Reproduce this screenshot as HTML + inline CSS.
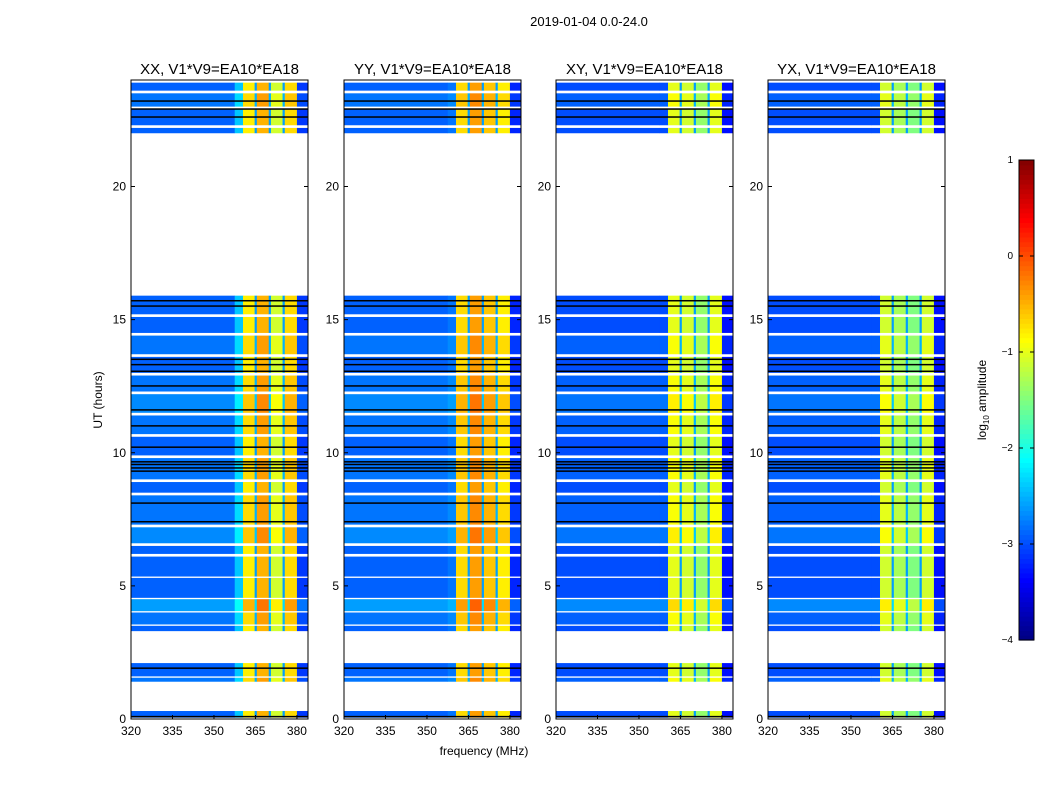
<!DOCTYPE html>
<html><head><meta charset="utf-8">
<style>
html,body{margin:0;padding:0;background:#fff;}
svg{display:block;font-family:"Liberation Sans","DejaVu Sans",sans-serif;}
</style></head>
<body>
<svg id="fig" width="1050" height="800" viewBox="0 0 1050 800" xmlns="http://www.w3.org/2000/svg">
<text x="589" y="26" font-size="13" text-anchor="middle">2019-01-04 0.0-24.0</text>
<text x="484" y="755" font-size="12" text-anchor="middle">frequency (MHz)</text>
<text transform="translate(102,400) rotate(-90)" font-size="12" text-anchor="middle">UT (hours)</text>
<text transform="translate(986,400) rotate(-90)" font-size="12" text-anchor="middle">log<tspan font-size="8" dy="3">10</tspan><tspan dy="-3"> amplitude</tspan></text>
</svg>
<script>
const panelTitles = ["XX, V1*V9=EA10*EA18","YY, V1*V9=EA10*EA18","XY, V1*V9=EA10*EA18","YX, V1*V9=EA10*EA18"];
const freqEdges = [320,357.5,360.5,364.7,365.5,369.8,370.6,374.8,375.6,380,384];
const bandValsXX = [-2.9,-2.4,-0.8,-2.6,-0.5,-2.6,-1.1,-2.6,-0.7,-3.1];
const bandValsYY = [-2.9,-2.8,-0.7,-2.6,-0.4,-2.6,-0.6,-2.6,-0.8,-3.2];
const bandValsXY = [-3.0,-3.0,-1.0,-2.6,-1.1,-2.6,-1.4,-2.6,-1.0,-3.3];
const bandValsYX = [-3.0,-3.0,-1.1,-2.6,-1.3,-2.6,-1.5,-2.6,-1.1,-3.3];
const segStart = [0.05,1.4,1.6,3.3,3.55,4.05,4.55,5.35,6.2,6.6,7.3,8.5,9.0,9.9,10.7,11.5,12.3,13.0,13.7,14.5,15.2,22.0,22.3,23.0,23.6];
const segEnd   = [0.3,1.55,2.1,3.5,4.0,4.5,5.3,6.1,6.5,7.2,8.4,8.9,9.8,10.6,11.4,12.2,12.9,13.6,14.4,15.1,15.9,22.2,22.9,23.5,23.9];
const segAdj   = [0,0.1,0,0,0.1,0.3,0,0,0,0.2,0.1,0,0.1,0,0.1,0.2,0.1,0,0.1,0,0,0,0,0.1,0];
const blackLines = [0.08,1.9,7.4,8.1,9.3,9.42,9.55,9.65,10.2,11.0,11.6,12.5,13.05,13.3,13.5,15.5,15.7,22.6,22.9,23.2];
const xTicks = [320,335,350,365,380];
const yTicks = [0,5,10,15,20];
const cbTicks = [1,0,-1,-2,-3,-4];

const svg = document.getElementById('fig');
const NS = 'http://www.w3.org/2000/svg';
const panelX = [131,344,556,768];
const PW = 177, PT = 80, PB = 719;
const fMin = 320, fMax = 384, tMin = 0, tMax = 24;
const vMin = -4, vMax = 1;
function jet(v){
  let t = (v - vMin)/(vMax - vMin);
  t = Math.max(0, Math.min(1, t));
  const c = x => Math.round(255*Math.max(0, Math.min(1, x)));
  return `rgb(${c(1.5-Math.abs(4*t-3))},${c(1.5-Math.abs(4*t-2))},${c(1.5-Math.abs(4*t-1))})`;
}
function mk(tag, attrs){ const e = document.createElementNS(NS, tag); for (const k in attrs) e.setAttribute(k, attrs[k]); svg.appendChild(e); return e; }
const yScale = h => PB - (h - tMin)/(tMax - tMin)*(PB - PT);
const allBands = [bandValsXX, bandValsYY, bandValsXY, bandValsYX];

panelX.forEach((x0, p) => {
  const xScale = f => x0 + (f - fMin)/(fMax - fMin)*PW;
  const bands = allBands[p];
  for (let s = 0; s < segStart.length; s++) {
    for (let b = 0; b < bands.length; b++) {
      const r = mk('rect', {x: xScale(freqEdges[b]), y: yScale(segEnd[s]), width: xScale(freqEdges[b+1]) - xScale(freqEdges[b]) + 0.3, height: yScale(segStart[s]) - yScale(segEnd[s]), fill: jet(bands[b] + segAdj[s])});
      
      
    }
  }
  blackLines.forEach(h => {
    const l = mk('rect', {x: x0, y: yScale(h) - 1, width: PW, height: 1.5, fill: '#000'});
    
    
  });
  const fr = mk('rect', {x: x0, y: PT, width: PW, height: PB - PT, fill: 'none', stroke: '#000', 'stroke-width': 1});
  
  
  const tt = mk('text', {x: x0 + PW/2, y: 74, 'font-size': 15, 'text-anchor': 'middle'});
  tt.textContent = panelTitles[p];
  
  
  xTicks.forEach(f => {
    mk('line', {x1: xScale(f), x2: xScale(f), y1: PB, y2: PB - 4, stroke: '#000'});
    const t = mk('text', {x: xScale(f), y: PB + 16, 'font-size': 12, 'text-anchor': 'middle'});
    t.textContent = f;
    
    
  });
  yTicks.forEach(h => {
    mk('line', {x1: x0, x2: x0 + 4, y1: yScale(h), y2: yScale(h), stroke: '#000'});
    mk('line', {x1: x0 + PW, x2: x0 + PW - 4, y1: yScale(h), y2: yScale(h), stroke: '#000'});
    const t = mk('text', {x: x0 - 5, y: yScale(h) + 4, 'font-size': 12, 'text-anchor': 'end'});
    t.textContent = h;
    
    
  });
});

// colorbar
const cbX = 1019, cbW = 15, cbT = 160, cbB = 640;
const cbY = v => cbB - (v - vMin)/(vMax - vMin)*(cbB - cbT);
for (let i = 0; i < 100; i++) {
  const v = vMin + (i + 0.5)*(vMax - vMin)/100;
  const r = mk('rect', {x: cbX, y: cbY(vMin + (i+1)*(vMax - vMin)/100), width: cbW, height: (cbB - cbT)/100 + 0.6, fill: jet(v)});
  
  
}
const cbf = mk('rect', {x: cbX, y: cbT, width: cbW, height: cbB - cbT, fill: 'none', stroke: '#000'});


cbTicks.forEach(v => {
  mk('line', {x1: cbX, x2: cbX + 4, y1: cbY(v), y2: cbY(v), stroke: '#000'});
  mk('line', {x1: cbX + cbW, x2: cbX + cbW - 4, y1: cbY(v), y2: cbY(v), stroke: '#000'});
  const t = mk('text', {x: cbX - 6, y: cbY(v) + 3, 'font-size': 10, 'text-anchor': 'end'});
  t.textContent = v < 0 ? '\u2212' + Math.abs(v) : v;
  
  
});
</script>
</body></html>
